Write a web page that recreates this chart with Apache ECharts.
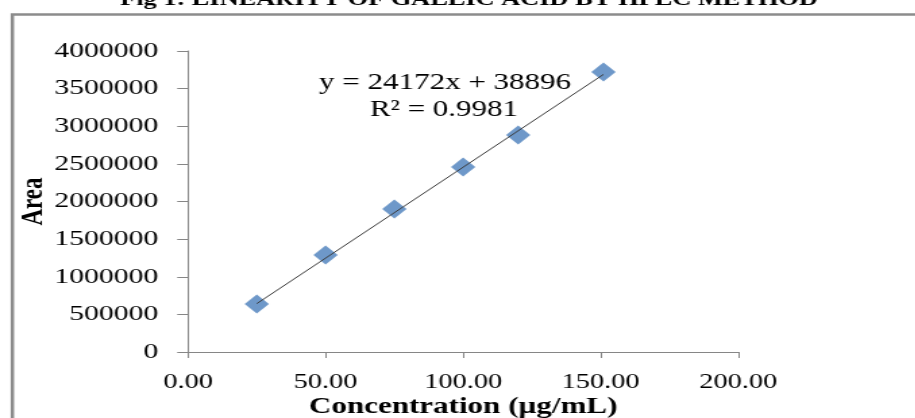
<!DOCTYPE html>
<html><head><meta charset="utf-8">
<script src="https://cdn.jsdelivr.net/npm/echarts@6/dist/echarts.min.js"></script>
<style>
html,body{margin:0;padding:0;background:#fff;overflow:hidden;}
#wrap{width:915px;height:418px;overflow:hidden;position:relative;background:#fff;}
#chart{position:absolute;left:0;top:0;height:418px;transform-origin:0 0;}
</style></head><body>
<div id="wrap"><div id="chart"></div></div>
<script>
// ---- data ----
const concentration = [25, 50, 75, 100, 120, 151];
const area = [638000, 1289000, 1900000, 2458000, 2884000, 3721000];
const xTickValues = [0, 50, 100, 150, 200];
const yTickValues = [0, 500000, 1000000, 1500000, 2000000, 2500000, 3000000, 3500000, 4000000];
const slope = 24172;
const intercept = 38896;
const rSquared = '0.9981';
const titleText = 'Fig 1: LINEARITY OF GALLIC ACID BY HPLC METHOD';
const xName = 'Concentration (µg/mL)';
const yName = 'Area';

// the reference figure is horizontally stretched; reproduce via a horizontal scale
const S = 1.35;
const W = 915 / S;
const el = document.getElementById('chart');
el.style.width = W + 'px';
el.style.transform = 'scaleX(' + S + ')';

const points = concentration.map((c, i) => [c, area[i]]);
const xFirst = concentration[0], xLast = concentration[concentration.length - 1];
const trend = [[xFirst, slope * xFirst + intercept], [xLast, slope * xLast + intercept]];

const chart = echarts.init(el, null, { renderer: 'canvas' });
const serif = '"Liberation Serif", "Times New Roman", serif';
const axisGray = '#868686';

chart.setOption({
  animation: false,
  backgroundColor: '#fff',
  grid: { left: 188 / S, right: W - 738 / S, top: 51, bottom: 66, containLabel: false, outerBoundsMode: 'none' },
  xAxis: {
    type: 'value', min: xTickValues[0], max: xTickValues[xTickValues.length - 1], interval: 50,
    splitLine: { show: false },
    axisLine: { show: true, onZero: false, lineStyle: { color: axisGray, width: 1 } },
    axisTick: { show: true, inside: false, length: 6, lineStyle: { color: axisGray } },
    axisLabel: { color: '#000', fontFamily: serif, fontSize: 21, margin: 20,
      formatter: v => v.toFixed(2) },
    name: xName, nameLocation: 'middle', nameGap: 44, nameMoveOverlap: false,
    nameTextStyle: { color: '#000', fontFamily: serif, fontSize: 23, fontWeight: 'bold' }
  },
  yAxis: {
    type: 'value', min: yTickValues[0], max: yTickValues[yTickValues.length - 1], interval: 500000,
    splitLine: { show: false },
    axisLine: { show: true, onZero: false, lineStyle: { color: axisGray, width: 1 } },
    axisTick: { show: true, inside: false, length: 8, lineStyle: { color: axisGray } },
    axisLabel: { color: '#000', fontFamily: serif, fontSize: 22, margin: 22,
      formatter: v => String(v) },
    name: yName, nameLocation: 'middle', nameRotate: 90, nameGap: 103, nameMoveOverlap: false,
    nameTextStyle: { color: '#000', fontFamily: serif, fontSize: 23, fontWeight: 'bold' }
  },
  series: [
    {
      type: 'scatter', data: points, symbol: 'diamond', symbolSize: [18, 19],
      itemStyle: { color: '#4a7ebb' }, z: 2
    },
    {
      type: 'line', data: trend, showSymbol: false, symbol: 'none',
      lineStyle: { color: '#3a3a3a', width: 1 }, z: 3, silent: true
    }
  ],
  graphic: [
    { type: 'rect', left: 9 / S, top: 12, z: 100, silent: true,
      shape: { x: 0, y: 0, width: W + 20, height: 430 },
      style: { fill: 'none', stroke: '#8c8c8c', lineWidth: 2.5 } },
    { type: 'text', x: 469 / S, y: 10, z: 100, silent: true,
      style: { text: titleText, fill: '#000', font: 'bold 19.5px ' + serif,
        textAlign: 'center', textVerticalAlign: 'bottom' } },
    { type: 'text', x: 445 / S, y: 83, z: 100, silent: true,
      style: { text: 'y = ' + slope + 'x + ' + intercept, fill: '#000', font: '23px ' + serif,
        textAlign: 'center', textVerticalAlign: 'middle' } },
    { type: 'text', x: 444 / S, y: 110, z: 100, silent: true,
      style: { text: 'R² = ' + rSquared, fill: '#000', font: '23px ' + serif,
        textAlign: 'center', textVerticalAlign: 'middle' } }
  ]
});
</script>
</body></html>
